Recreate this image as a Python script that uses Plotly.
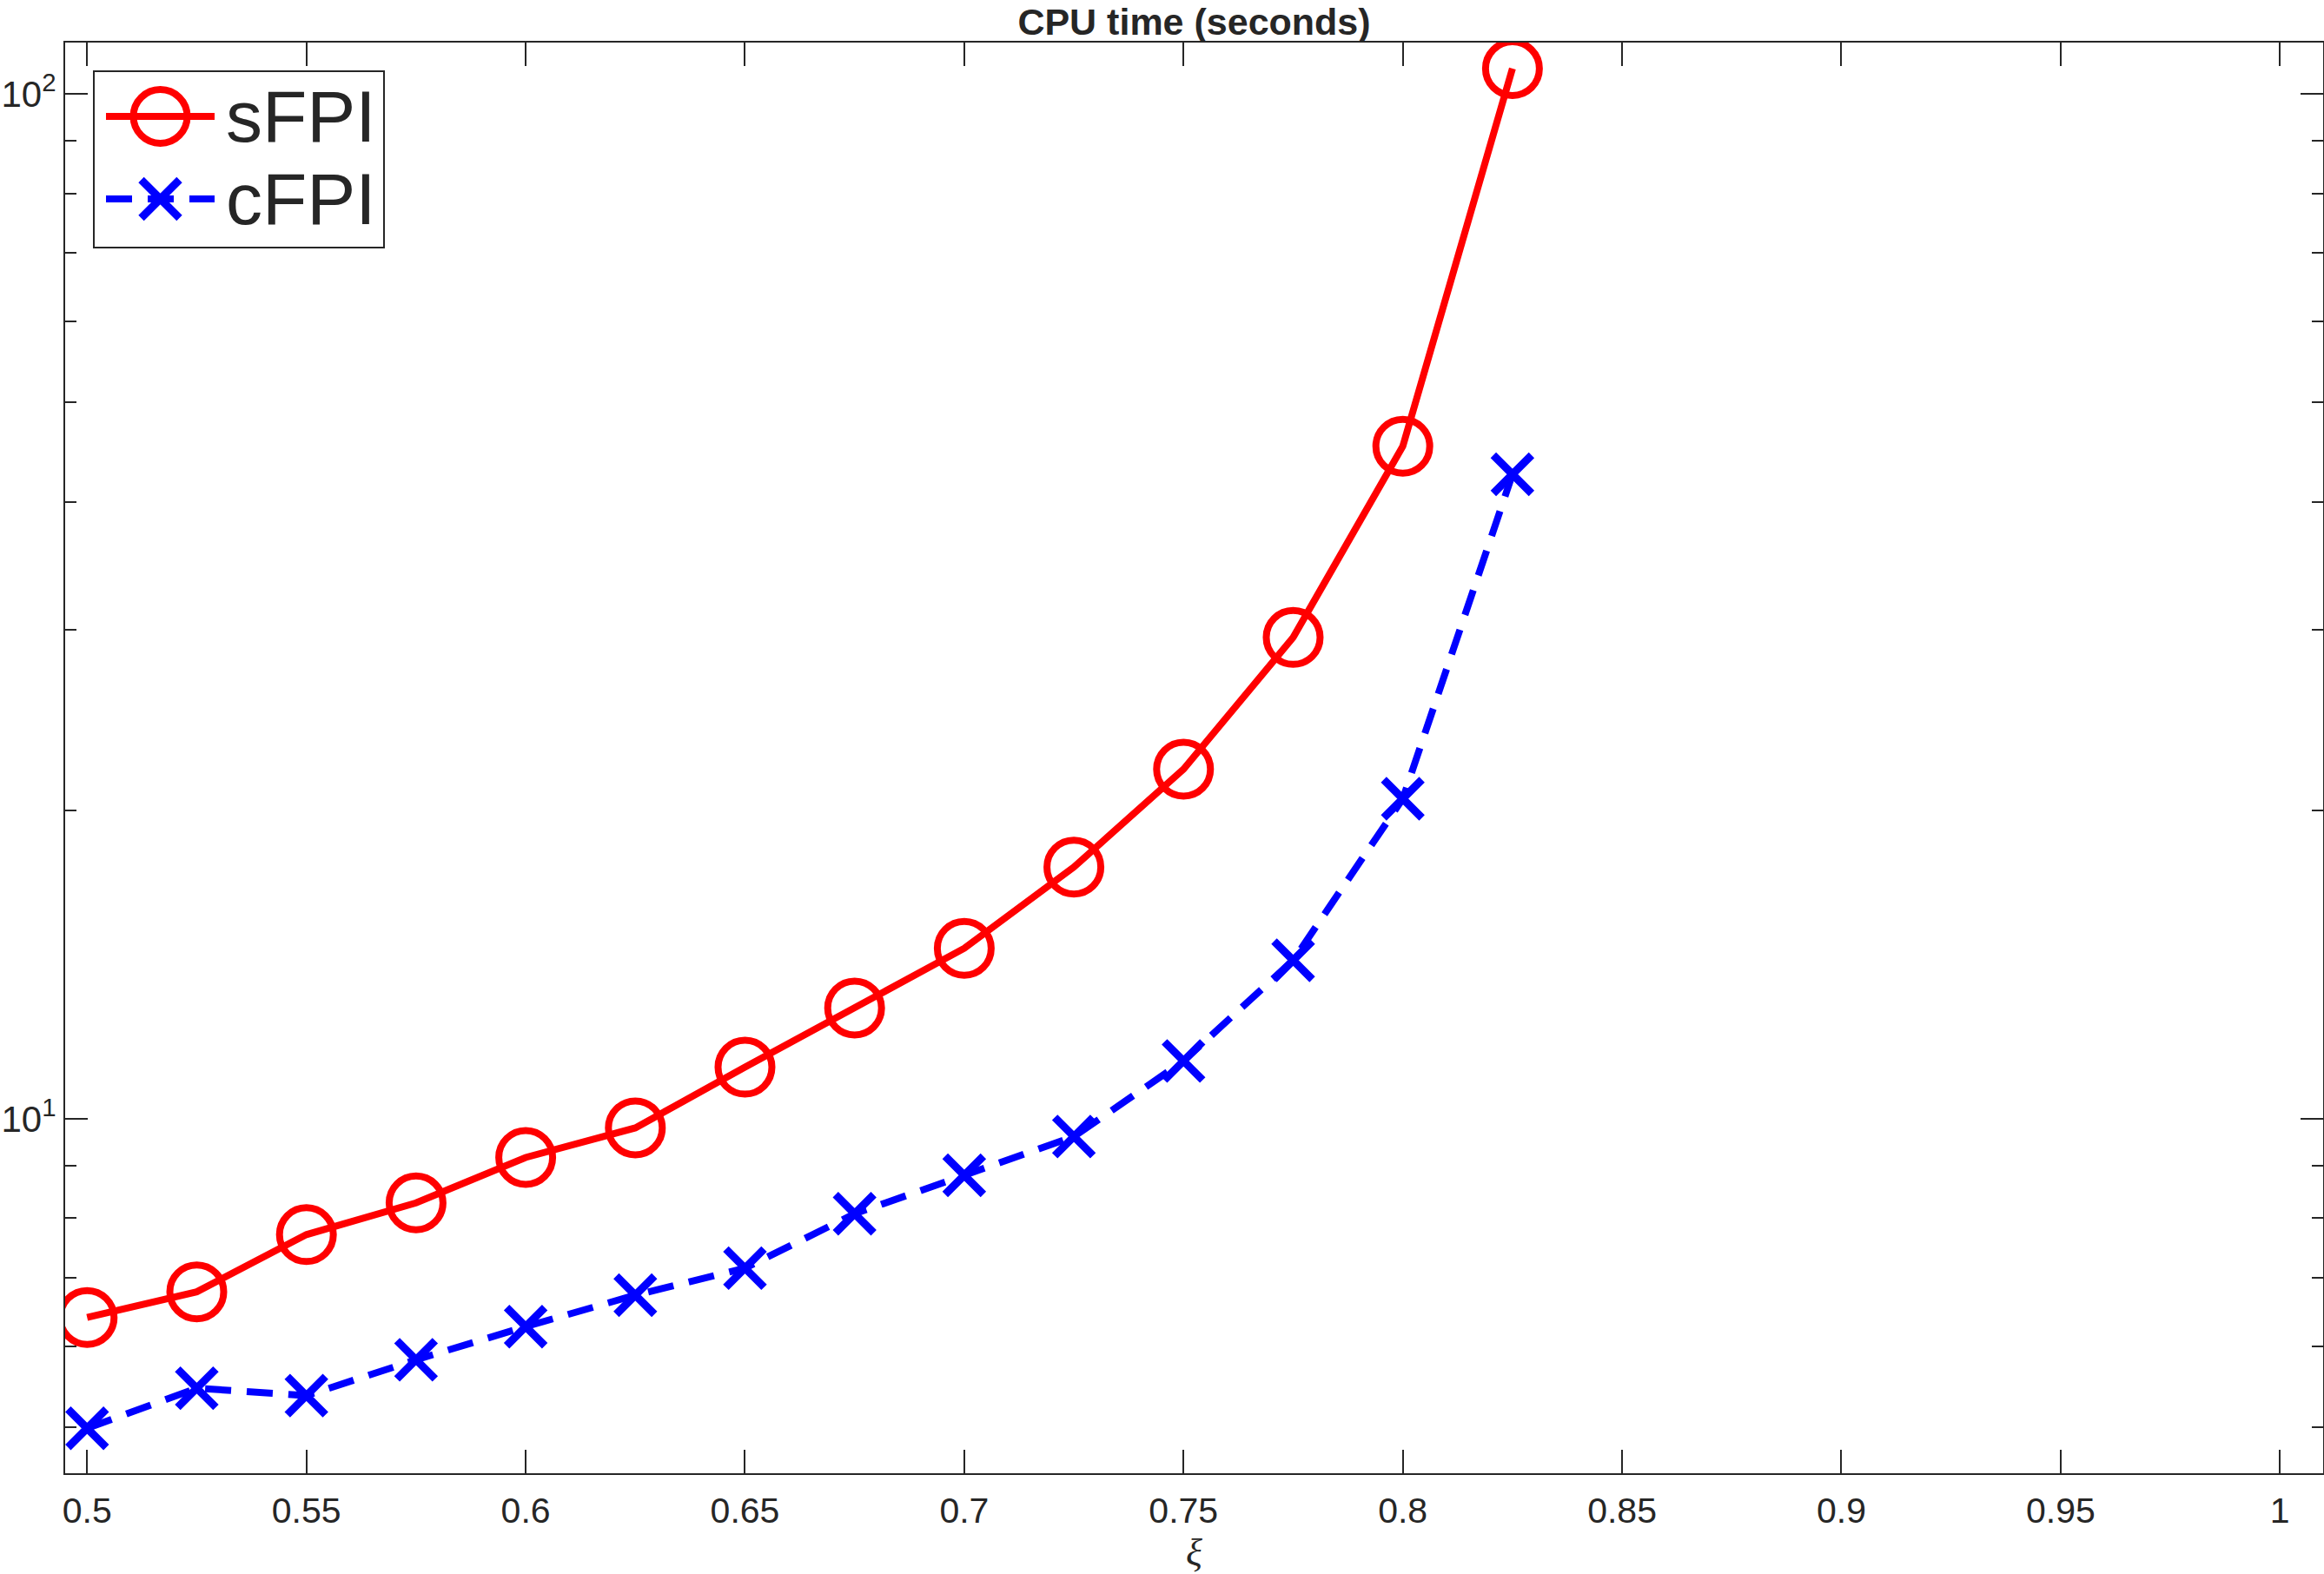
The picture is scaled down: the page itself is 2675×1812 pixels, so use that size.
import plotly.graph_objects as go

xi = [0.5, 0.525, 0.55, 0.575, 0.6, 0.625, 0.65, 0.675, 0.7, 0.725, 0.75, 0.775, 0.8, 0.825]
sfpi = [6.40, 6.78, 7.71, 8.28, 9.17, 9.80, 11.23, 12.83, 14.67, 17.61, 21.94, 29.50, 45.33, 105.9]
cfpi = [4.99, 5.46, 5.37, 5.82, 6.27, 6.73, 7.15, 8.08, 8.81, 9.61, 11.39, 14.28, 20.53, 42.56]
series_names = ["sFPI", "cFPI"]

x_ticks = [0.5, 0.55, 0.6, 0.65, 0.7, 0.75, 0.8, 0.85, 0.9, 0.95, 1.0]
x_ticklabels = ["0.5", "0.55", "0.6", "0.65", "0.7", "0.75", "0.8", "0.85", "0.9", "0.95", "1"]
y_ticks = [10, 100]
y_ticklabels = ["10<sup>1</sup>", "10<sup>2</sup>"]
y_minor = [5, 6, 7, 8, 9, 20, 30, 40, 50, 60, 70, 80, 90]

INK = "#262626"
FONT = "Liberation Sans, Arial, Helvetica, sans-serif"
W, H = 2675, 1812
L, R, T, B = 75, 2674, 49, 1696  # plot area in pixels

styles = [
    dict(line=dict(color="#FF0000", width=8),
         marker=dict(symbol="circle-open", size=62, color="#FF0000", line=dict(width=8, color="#FF0000"))),
    dict(line=dict(color="#0000FF", width=8, dash="30px,18px"),
         marker=dict(symbol="x-thin", size=44, color="#0000FF", line=dict(width=9, color="#0000FF"))),
]

fig = go.Figure()
for name, ys, st in zip(series_names, [sfpi, cfpi], styles):
    fig.add_trace(go.Scatter(x=xi, y=ys, name=name, mode="lines+markers",
                             showlegend=False, xaxis="x", yaxis="y", **st))

# Legend box drawn as a small inset axes (legend key samples, MATLAB-like long keys)
LB = dict(x0=109, x1=441, y0=83, y1=284)
row_y = [51, 146]          # row centers inside the box (px from box top)
key_x = [13, 75.5, 138]    # key line start, marker, end (px from box left)
for name, ry, st in zip(series_names, row_y, styles):
    fig.add_trace(go.Scatter(x=key_x, y=[ry] * 3, mode="lines", showlegend=False,
                             line=st["line"], xaxis="x2", yaxis="y2", hoverinfo="skip"))
    fig.add_trace(go.Scatter(x=[key_x[1]], y=[ry], mode="markers", showlegend=False,
                             marker=st["marker"], xaxis="x2", yaxis="y2", hoverinfo="skip"))
    fig.add_annotation(x=149, y=ry, xref="x2", yref="y2", text=name, showarrow=False,
                       xanchor="left", yanchor="middle",
                       font=dict(size=84, color=INK, family=FONT))

PW, PH = R - L, B - T
fig.update_layout(
    width=W, height=H,
    margin=dict(l=L, r=W - R, t=T, b=H - B, autoexpand=False),
    paper_bgcolor="white", plot_bgcolor="white",
    font=dict(family=FONT, color=INK, size=41),
    showlegend=False,
    title=dict(text="<b>CPU time (seconds)</b>", font=dict(size=43, color=INK, family=FONT),
               x=(L + R) / 2 / W, xref="container", xanchor="center",
               y=1 - 25 / H, yref="container", yanchor="middle"),
    xaxis=dict(
        domain=[0, 1], anchor="y",
        range=[0.49499, 1.00985], tickmode="array", tickvals=x_ticks, ticktext=x_ticklabels,
        ticks="inside", ticklen=27, tickwidth=2, tickcolor=INK,
        showline=True, linecolor=INK, linewidth=2, mirror="ticks",
        showgrid=False, zeroline=False, ticklabelstandoff=6,
        tickfont=dict(size=41, color=INK, family=FONT),
        title=dict(text="<i>ξ</i>", font=dict(size=44, color=INK, family="Liberation Serif, Times New Roman, serif"), standoff=10),
    ),
    yaxis=dict(
        domain=[0, 1], anchor="x",
        type="log", range=[0.6542, 2.0503], tickmode="array", tickvals=y_ticks, ticktext=y_ticklabels,
        ticks="inside", ticklen=26, tickwidth=2, tickcolor=INK,
        minor=dict(tickmode="array", tickvals=y_minor, ticks="inside", ticklen=13, tickwidth=2, tickcolor=INK, showgrid=False),
        showline=True, linecolor=INK, linewidth=2, mirror="ticks",
        showgrid=False, zeroline=False,
        tickfont=dict(size=42, color=INK, family=FONT),
    ),
    xaxis2=dict(domain=[(LB["x0"] - L) / PW, (LB["x1"] - L) / PW], anchor="y2",
                range=[0, LB["x1"] - LB["x0"]], showline=True, mirror=True, linecolor=INK, linewidth=2,
                showticklabels=False, ticks="", showgrid=False, zeroline=False, fixedrange=True),
    yaxis2=dict(domain=[(B - LB["y1"]) / PH, (B - LB["y0"]) / PH], anchor="x2",
                range=[LB["y1"] - LB["y0"], 0], showline=True, mirror=True, linecolor=INK, linewidth=2,
                showticklabels=False, ticks="", showgrid=False, zeroline=False, fixedrange=True),
)

fig.write_html("out.html")
